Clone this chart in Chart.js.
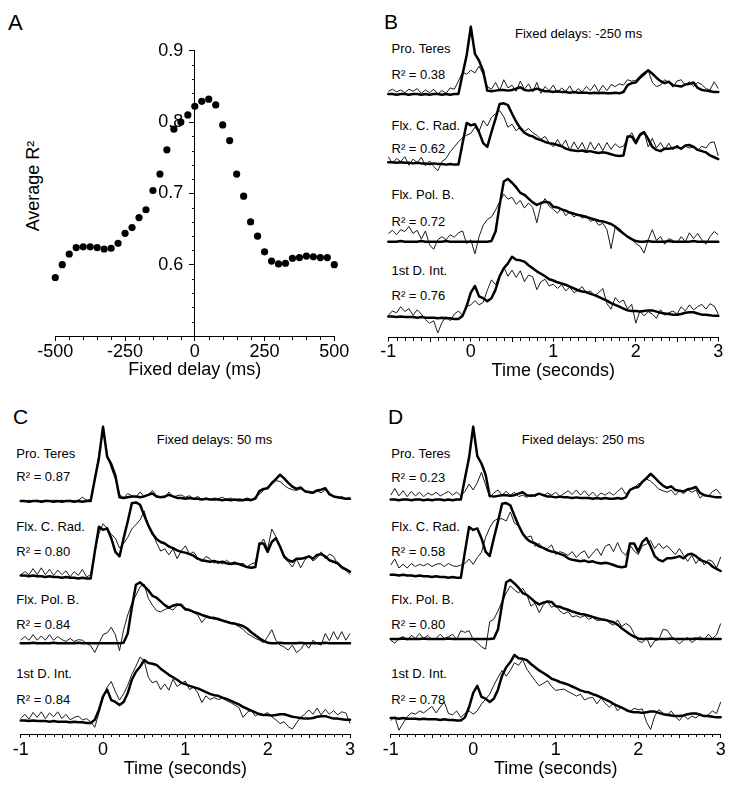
<!DOCTYPE html>
<html>
<head>
<meta charset="utf-8">
<script src="https://cdn.jsdelivr.net/npm/chart.js@4.4.1/dist/chart.umd.min.js"></script>
<style>
html,body{margin:0;padding:0;background:#fff;}
body{width:735px;height:792px;position:relative;overflow:hidden;font-family:"Liberation Sans",Arial,Helvetica,sans-serif;color:#000;}
canvas{position:absolute;z-index:1;}
.lbl{position:absolute;white-space:nowrap;line-height:1;z-index:0;color:#000;}
</style>
</head>
<body>
<canvas id="cA" width="370" height="392" style="left:0px;top:0px;width:370px;height:392px"></canvas>
<canvas id="cB" width="365" height="392" style="left:370px;top:0px;width:365px;height:392px"></canvas>
<canvas id="cC" width="370" height="397" style="left:0px;top:395px;width:370px;height:397px"></canvas>
<canvas id="cD" width="370" height="397" style="left:365px;top:395px;width:370px;height:397px"></canvas>
<script>
// ---------------- Panel A data ----------------
const DELAY_MS = [-500,-475,-450,-425,-400,-375,-350,-325,-300,-275,-250,-225,-200,-175,-150,-125,-100,-75,-50,-25,
  0,25,50,75,100,125,150,175,200,225,250,275,300,325,350,375,400,425,450,475,500];
const AVG_R2 = [0.582,0.600,0.615,0.624,0.625,0.625,0.624,0.622,0.623,0.630,0.644,0.652,0.666,0.677,0.704,0.727,0.761,0.790,0.800,0.810,
  0.822,0.829,0.832,0.824,0.796,0.774,0.727,0.696,0.660,0.640,0.618,0.605,0.601,0.602,0.609,0.610,0.612,0.611,0.610,0.610,0.600];
const A_X_TICKS = [-500,-250,0,250,500];
const A_Y_TICKS = [0.6,0.7,0.8,0.9];

// ---------------- Time grid (seconds) ----------------
const TIME = [-1,-0.95,-0.9,-0.85,-0.8,-0.75,-0.7,-0.65,-0.6,-0.55,-0.5,-0.45,-0.4,-0.35,-0.3,-0.25,-0.2,-0.15,-0.1,-0.05,
  0,0.05,0.1,0.15,0.2,0.25,0.3,0.35,0.4,0.45,
  0.5,0.55,0.6,0.65,0.7,0.75,0.8,0.85,0.9,0.95,
  1,1.05,1.1,1.15,1.2,1.25,1.3,1.35,1.4,1.45,
  1.5,1.55,1.6,1.65,1.7,1.75,1.8,1.85,1.9,1.95,
  2,2.05,2.1,2.15,2.2,2.25,2.3,2.35,2.4,2.45,
  2.5,2.55,2.6,2.65,2.7,2.75,2.8,2.85,2.9,2.95,
  3];
const TIME_TICKS = [-1,0,1,2,3];

// ---------------- Recorded EMG (thick lines, same in B, C, D) ----------------
const EMG_PRO_TERES = [0.01,0.01,0.00,0.01,0.01,0.00,0.01,0.01,0.00,0.01,0.00,0.01,0.01,0.00,0.01,0.00,0.01,0.01,0.30,0.58,
  1.00,0.60,0.50,0.35,0.06,0.05,0.06,0.07,0.07,0.06,
  0.07,0.09,0.11,0.07,0.06,0.07,0.09,0.07,0.05,0.05,
  0.04,0.05,0.04,0.04,0.03,0.04,0.03,0.03,0.03,0.02,
  0.03,0.02,0.03,0.02,0.02,0.03,0.02,0.04,0.14,0.17,
  0.18,0.25,0.30,0.36,0.31,0.25,0.20,0.17,0.19,0.14,
  0.13,0.12,0.15,0.16,0.18,0.10,0.07,0.06,0.05,0.04,
  0.04];
const EMG_FLX_C_RAD = [0.03,0.03,0.02,0.03,0.02,0.02,0.01,0.02,0.01,0.01,0.00,0.01,0.00,0.00,-0.01,0.00,-0.01,-0.01,0.34,0.67,
  0.63,0.65,0.52,0.34,0.28,0.52,0.74,0.98,0.99,0.96,
  0.82,0.69,0.58,0.51,0.47,0.45,0.41,0.39,0.36,0.34,
  0.33,0.31,0.29,0.25,0.23,0.22,0.21,0.22,0.20,0.21,
  0.19,0.18,0.19,0.18,0.16,0.14,0.13,0.14,0.45,0.45,
  0.34,0.47,0.52,0.41,0.28,0.23,0.21,0.25,0.25,0.26,
  0.28,0.25,0.30,0.31,0.28,0.23,0.21,0.19,0.14,0.11,
  0.08];
const EMG_FLX_POL_B = [0.00,0.00,0.00,0.01,0.00,0.00,0.00,0.00,0.01,0.00,0.00,0.00,0.00,0.00,0.01,0.00,0.00,0.00,0.00,0.00,
  0.00,0.00,0.00,0.00,0.00,0.01,0.16,0.58,0.95,0.99,
  0.93,0.86,0.77,0.74,0.68,0.62,0.58,0.61,0.63,0.62,
  0.55,0.54,0.51,0.49,0.46,0.44,0.42,0.41,0.39,0.37,
  0.35,0.33,0.32,0.30,0.28,0.24,0.18,0.13,0.08,0.04,
  0.01,0.00,0.00,0.01,0.00,0.00,0.00,0.00,0.01,0.00,
  0.00,0.00,0.00,0.00,0.01,0.00,0.00,0.00,0.00,0.00,
  0.00];
const EMG_1ST_D_INT = [0.02,0.02,0.01,0.02,0.01,0.01,0.01,0.00,0.01,0.00,0.00,0.00,-0.01,0.00,-0.01,-0.01,-0.02,-0.02,0.03,0.19,
  0.41,0.52,0.35,0.32,0.27,0.32,0.46,0.68,0.81,0.89,
  1.00,0.95,0.94,0.92,0.86,0.81,0.76,0.72,0.68,0.63,
  0.61,0.58,0.56,0.54,0.51,0.48,0.45,0.43,0.42,0.39,
  0.37,0.34,0.31,0.28,0.24,0.21,0.18,0.15,0.12,0.11,
  0.11,0.10,0.11,0.12,0.12,0.10,0.08,0.07,0.06,0.05,
  0.05,0.06,0.08,0.09,0.09,0.07,0.05,0.05,0.04,0.03,
  0.03];

// ---------------- Predictions (thin lines) ----------------
// Panel B, fixed delay -250 ms
const PRED_B_PRO_TERES = [0.05,0.08,0.04,0.07,0.03,0.08,0.05,0.09,0.02,0.07,0.03,0.08,0.01,0.06,0.02,0.10,0.08,0.20,0.33,0.30,
  0.36,0.32,0.42,0.30,0.12,0.08,0.18,0.06,0.22,0.10,
  0.14,0.05,0.20,0.08,0.16,0.04,0.18,0.02,0.12,0.06,
  0.14,0.03,0.10,0.05,0.13,0.02,0.09,0.04,0.12,0.06,
  0.15,0.04,0.14,0.06,0.15,0.12,0.16,0.14,0.22,0.20,
  0.21,0.28,0.33,0.36,0.18,0.12,0.14,0.22,0.18,0.11,
  0.20,0.22,0.14,0.19,0.12,0.18,0.15,0.09,0.07,0.19,
  0.09];
const PRED_B_FLX_C_RAD = [0.12,0.01,0.09,0.04,0.12,-0.02,0.08,0.02,0.11,-0.03,0.05,-0.04,-0.11,0.04,0.09,0.20,0.28,0.36,0.43,0.47,
  0.50,0.60,0.53,0.71,0.62,0.76,0.82,0.87,0.77,0.60,
  0.65,0.54,0.61,0.53,0.58,0.51,0.47,0.40,0.45,0.35,
  0.28,0.40,0.29,0.39,0.22,0.36,0.24,0.35,0.20,0.36,
  0.23,0.34,0.22,0.35,0.24,0.33,0.27,0.29,0.42,0.51,
  0.38,0.50,0.53,0.28,0.42,0.26,0.35,0.23,0.34,0.23,
  0.31,0.24,0.29,0.26,0.28,0.22,0.29,0.26,0.35,0.36,
  0.13];
const PRED_B_FLX_POL_B = [0.13,0.18,0.11,0.19,0.16,0.24,0.13,0.18,0.04,0.17,-0.05,-0.12,0.03,0.08,0.03,0.11,0.07,0.14,0.17,-0.03,
  0.03,-0.19,0.08,0.26,0.35,0.39,0.50,0.63,0.75,0.67,
  0.70,0.59,0.65,0.53,0.61,0.54,0.30,0.58,0.68,0.56,
  0.51,0.45,0.53,0.41,0.47,0.39,0.44,0.37,0.41,0.32,
  0.35,0.26,0.29,0.19,-0.11,0.23,0.21,0.14,0.08,0.04,
  -0.03,-0.07,-0.18,0.03,0.19,0.02,0.08,-0.04,0.05,0.02,
  -0.02,0.08,0.00,0.14,0.05,0.13,0.03,-0.04,0.08,0.16,
  0.11];
const PRED_B_1ST_D_INT = [0.04,0.11,0.08,0.18,0.10,0.15,0.04,0.13,0.06,-0.03,-0.09,-0.05,-0.25,-0.08,0.02,-0.05,0.06,0.11,0.04,0.18,
  0.21,0.28,0.21,0.25,0.45,0.62,0.54,0.70,0.83,0.68,
  0.78,0.66,0.77,0.59,0.70,0.67,0.46,0.59,0.63,0.52,
  0.55,0.48,0.54,0.44,0.50,0.41,0.45,0.51,0.40,0.44,
  0.36,0.41,0.48,0.23,0.14,0.33,0.25,0.29,0.14,0.22,
  -0.09,0.11,0.03,0.10,0.06,-0.01,0.13,0.04,0.08,0.11,
  0.06,0.18,0.11,0.21,0.13,0.18,0.22,0.14,0.23,0.19,
  0.06];
// Panel C, fixed delay 50 ms
const PRED_C_PRO_TERES = [0.01,0.00,0.02,0.01,0.02,0.01,0.02,0.01,0.02,0.01,0.02,0.01,0.02,0.01,0.02,0.06,0.02,0.03,0.30,0.62,
  0.95,0.62,0.45,0.30,0.10,0.05,0.11,0.08,0.06,0.13,
  0.07,0.09,0.15,0.08,0.06,0.05,0.13,0.06,0.08,0.09,
  0.06,0.08,0.04,0.07,0.03,0.05,0.03,0.05,0.04,0.06,
  0.03,0.05,0.02,0.04,0.03,0.05,0.03,0.06,0.10,0.15,
  0.20,0.23,0.28,0.27,0.22,0.18,0.16,0.15,0.17,0.14,
  0.12,0.11,0.14,0.12,0.16,0.09,0.08,0.05,0.07,0.04,
  0.06];
const PRED_C_FLX_C_RAD = [0.04,0.08,0.04,0.12,0.04,0.13,0.04,0.11,0.03,0.10,0.04,0.09,0.01,0.08,0.03,0.11,0.01,0.04,0.34,0.58,
  0.71,0.65,0.57,0.52,0.39,0.45,0.53,0.64,0.70,0.76,
  0.88,0.68,0.60,0.46,0.35,0.38,0.30,0.38,0.25,0.35,
  0.42,0.31,0.34,0.26,0.21,0.28,0.25,0.19,0.22,0.18,
  0.23,0.19,0.21,0.17,0.19,0.14,0.18,0.20,0.42,0.51,
  0.38,0.64,0.54,0.41,0.26,0.21,0.14,0.25,0.13,0.23,
  0.29,0.22,0.26,0.34,0.25,0.31,0.28,0.18,0.12,0.10,
  0.04];
const PRED_C_FLX_POL_B = [0.05,0.11,0.05,0.14,0.05,0.12,0.05,0.14,0.05,0.11,0.06,0.03,0.08,0.03,0.06,0.05,0.00,-0.04,-0.15,0.00,
  0.14,0.17,0.26,0.14,-0.12,0.22,0.46,0.65,0.78,0.92,
  0.96,0.73,0.62,0.53,0.51,0.55,0.57,0.54,0.61,0.64,
  0.57,0.55,0.50,0.46,0.34,0.42,0.41,0.39,0.41,0.37,
  0.35,0.32,0.31,0.27,0.23,0.16,0.12,0.08,0.05,0.01,
  0.11,0.22,0.05,-0.03,-0.06,-0.11,-0.03,-0.15,-0.10,0.00,
  -0.08,0.05,0.00,-0.03,0.16,0.04,0.19,0.06,0.19,0.05,
  0.16];
const PRED_C_1ST_D_INT = [0.05,0.12,0.04,0.15,0.07,0.16,0.05,0.14,0.08,0.16,0.05,0.12,0.03,0.07,0.09,0.03,0.05,0.00,-0.09,0.14,
  0.38,0.56,0.65,0.49,0.35,0.45,0.59,0.77,0.90,1.05,
  0.99,0.72,0.63,0.66,0.52,0.61,0.51,0.69,0.57,0.62,
  0.66,0.52,0.56,0.47,0.31,0.42,0.36,0.39,0.36,0.38,
  0.34,0.31,0.27,0.23,0.07,0.15,0.19,0.09,0.14,0.11,
  0.15,0.08,0.03,-0.03,0.00,-0.08,-0.12,-0.02,0.07,0.12,
  0.19,0.12,0.22,0.11,0.20,0.12,0.18,0.11,0.16,0.14,
  -0.03];
// Panel D, fixed delay 250 ms
const PRED_D_PRO_TERES = [0.07,0.16,0.06,0.13,0.05,0.12,0.06,0.11,0.05,0.10,0.07,0.11,0.06,0.09,0.12,0.07,0.11,0.06,0.12,0.22,
  0.14,0.24,0.38,0.21,0.04,0.10,0.14,0.07,0.12,0.07,
  0.11,0.05,0.07,0.04,0.08,0.05,0.09,0.06,0.10,0.07,
  0.11,0.05,0.09,0.13,0.08,0.14,0.07,0.13,0.06,0.11,
  0.05,0.10,0.07,0.11,0.07,0.12,0.17,0.08,0.15,0.17,
  0.22,0.24,0.29,0.26,0.21,0.15,0.13,0.11,0.14,0.07,
  0.13,0.09,0.14,0.11,0.14,0.03,0.08,0.05,0.12,0.15,
  0.08];
const PRED_D_FLX_C_RAD = [0.16,0.24,0.12,0.17,0.12,0.18,0.14,0.17,0.15,0.18,0.14,0.17,0.18,0.14,0.18,0.15,0.14,0.16,0.18,0.24,
  0.17,0.26,0.33,0.53,0.66,0.75,0.78,0.78,0.75,0.87,
  0.72,0.69,0.58,0.53,0.55,0.41,0.45,0.38,0.38,0.43,
  0.30,0.34,0.32,0.29,0.34,0.26,0.32,0.35,0.25,0.32,
  0.38,0.29,0.41,0.44,0.34,0.46,0.34,0.29,0.43,0.35,
  0.30,0.42,0.44,0.49,0.38,0.45,0.38,0.42,0.36,0.30,
  0.38,0.29,0.21,0.29,0.18,0.26,0.16,0.23,0.21,0.12,
  0.27];
const PRED_D_FLX_POL_B = [-0.02,-0.07,0.01,0.04,-0.02,0.06,0.01,0.09,0.01,0.06,-0.01,0.01,0.08,0.01,0.04,0.08,-0.01,0.14,0.11,0.14,
  -0.01,-0.06,-0.13,-0.17,0.29,0.33,0.47,0.63,0.77,0.89,
  0.82,0.77,0.85,0.74,0.55,0.60,0.44,0.57,0.63,0.53,
  0.57,0.47,0.42,0.46,0.37,0.39,0.36,0.39,0.33,0.36,
  0.31,0.32,0.33,0.27,0.23,0.32,0.21,0.26,0.22,0.09,
  -0.03,-0.06,0.03,-0.14,-0.03,-0.01,0.16,0.15,0.05,-0.02,
  -0.08,-0.02,0.03,-0.06,-0.01,0.04,-0.01,0.08,0.01,0.07,
  0.26];
const PRED_D_1ST_D_INT = [-0.02,0.04,-0.17,-0.06,0.04,0.10,0.08,0.13,0.10,0.15,0.20,0.10,0.19,0.27,0.09,0.07,0.13,0.03,0.09,0.13,
  0.08,0.13,0.24,0.31,0.39,0.53,0.65,0.76,0.67,0.76,
  0.88,0.84,0.93,0.78,0.69,0.60,0.52,0.56,0.60,0.51,
  0.45,0.46,0.47,0.43,0.40,0.36,0.39,0.30,0.33,0.34,
  0.24,0.33,0.25,0.19,0.25,0.13,0.20,0.13,0.12,0.17,
  0.15,0.16,-0.04,-0.16,0.05,0.15,0.10,0.05,0.13,0.04,
  -0.02,0.07,0.00,0.05,0.02,0.08,0.04,0.07,0.13,0.09,
  0.27];

// ---------------- Labels ----------------
const MUSCLES = ['Pro. Teres','Flx. C. Rad.','Flx. Pol. B.','1st D. Int.'];
const R2_B = ['0.38','0.62','0.72','0.76'];
const R2_C = ['0.87','0.80','0.84','0.84'];
const R2_D = ['0.23','0.58','0.80','0.78'];
const DELAY_TITLE_B = 'Fixed delays: -250 ms';
const DELAY_TITLE_C = 'Fixed delays: 50 ms';
const DELAY_TITLE_D = 'Fixed delays: 250 ms';

// ---------------- Layout (pixels) ----------------
const FONT = '"Liberation Sans", Arial, Helvetica, sans-serif';
Chart.defaults.font.family = FONT;
Chart.defaults.color = '#000';

const PANEL_LAYOUT = {
  B: {canvas:'cB', padL:18.3, padR:16.7, bottom:337.5, canvasH:392, tickPad:0, titlePadB:9.8,
      bases:[94.7,164,241.7,317.7], amps:[68,61.3,63.4,61],
      textLeft:391.5, textTops:[[41.6,68.3],[119,141.6],[188.3,215],[264.3,289.3]],
      letter:{t:'B', left:384, top:10.6}, title:{left:515, top:26.5}},
  C: {canvas:'cC', padL:20.7, padR:20, bottom:339, canvasH:397, tickPad:1.5, titlePadB:12.2,
      bases:[106.7,182.7,248.3,326.7], amps:[75,76,61.6,61.7],
      textLeft:16.3, textTops:[[446.6,470],[520,545],[593.3,618.3],[666.6,693.3]],
      letter:{t:'C', left:13, top:405.6}, title:{left:156.7, top:432.5}},
  D: {canvas:'cD', padL:25.7, padR:14.3, bottom:339, canvasH:397, tickPad:1.5, titlePadB:12.2,
      bases:[105.3,182,244,324.3], amps:[73.6,74.7,59.7,64.3],
      textLeft:391.3, textTops:[[446.6,470.6],[520,545],[593.3,618.3],[666.6,693.3]],
      letter:{t:'D', left:388, top:405.6}, title:{left:521.7, top:432.5}}
};

function addLabel(text, left, top, size, extra) {
  const d = document.createElement('div');
  d.className = 'lbl';
  d.textContent = text;
  d.style.left = left + 'px';
  d.style.top = top + 'px';
  d.style.fontSize = size + 'px';
  if (extra) Object.assign(d.style, extra);
  document.body.appendChild(d);
  return d;
}

// minor tick marks drawn through the chart's own scales
const minorTicks = {
  id: 'minorTicks',
  beforeDatasetsDraw(chart, args, opts) {
    // tick labels of an axis placed at a data value (panel A's y axis)
    const ctx = chart.ctx;
    (opts.labels || []).forEach(l => {
      const sc = chart.scales[l.scale];
      const x0 = chart.scales[l.cross].getPixelForValue(l.crossValue);
      ctx.save();
      ctx.fillStyle = '#000';
      ctx.font = l.size + 'px ' + FONT;
      ctx.textAlign = 'right';
      ctx.textBaseline = 'middle';
      l.values.forEach(v => ctx.fillText(l.format(v), x0 - l.offset, sc.getPixelForValue(v)));
      ctx.restore();
    });
  },
  afterDraw(chart, args, opts) {
    const ctx = chart.ctx;
    ctx.save();
    ctx.strokeStyle = '#000';
    ctx.lineWidth = 1;
    (opts.marks || []).forEach(m => {
      const sc = chart.scales[m.scale];
      ctx.beginPath();
      if (m.dir === 'down') {
        const y0 = Math.round(sc.top);
        m.values.forEach((v, i) => {
          const x = Math.round(sc.getPixelForValue(v)) + 0.5;
          ctx.moveTo(x, y0); ctx.lineTo(x, y0 + 1 + m.lengths[i]);
        });
      } else {
        const x0 = Math.round(chart.scales[m.cross].getPixelForValue(m.crossValue));
        m.values.forEach((v, i) => {
          const y = Math.round(sc.getPixelForValue(v)) + 0.5;
          ctx.moveTo(x0, y); ctx.lineTo(x0 - m.lengths[i], y);
        });
      }
      ctx.stroke();
    });
    ctx.restore();
  }
};

// ---------------- Panel A ----------------
(function () {
  const xMinor = [], xMinorLen = [];
  for (let v = -450; v < 500; v += 50) { if (v % 250 !== 0) { xMinor.push(v); xMinorLen.push(3); } }
  const yMinor = [], yMinorLen = [];
  for (let i = 26; i < 45; i++) { if (i % 5 !== 0) { yMinor.push(i / 50); yMinorLen.push(3); } }
  new Chart(document.getElementById('cA'), {
    type: 'scatter',
    data: { datasets: [{
      data: DELAY_MS.map((d, i) => ({ x: d, y: AVG_R2[i] })),
      pointRadius: 3.6, pointBackgroundColor: '#000', pointBorderColor: '#000', pointBorderWidth: 0,
      showLine: false, clip: false
    }]},
    options: {
      responsive: false, animation: false, devicePixelRatio: 1,
      layout: { padding: { left: 55.3, right: 35.7, top: 50.7, bottom: 0 } },
      plugins: { legend: { display: false }, tooltip: { enabled: false },
        minorTicks: {
          marks: [
            { scale: 'x', dir: 'down', values: xMinor, lengths: xMinorLen },
            { scale: 'y', dir: 'left', cross: 'x', crossValue: 0, values: yMinor, lengths: yMinorLen }
          ],
          labels: [
            { scale: 'y', cross: 'x', crossValue: 0, values: A_Y_TICKS, offset: 11.5, size: 18, format: v => v.toFixed(1) }
          ]
        }},
      scales: {
        x: { type: 'linear', min: -500, max: 500, position: 'bottom',
          afterBuildTicks: s => { s.ticks = A_X_TICKS.map(v => ({ value: v })); },
          ticks: { font: { size: 18 }, color: '#000', padding: 0, maxRotation: 0, autoSkip: false, callback: v => String(v) },
          grid: { display: true, drawOnChartArea: false, drawTicks: true, tickLength: 5, tickColor: '#000', tickWidth: 1 },
          border: { display: true, color: '#000', width: 1 },
          title: { display: true, text: 'Fixed delay (ms)', font: { size: 18 }, color: '#000', padding: { top: 0, bottom: 10.7 } },
          afterFit: s => { s.height = 56; } },
        y: { type: 'linear', min: 0.5, max: 0.9, position: { x: 0 },
          afterBuildTicks: s => { s.ticks = A_Y_TICKS.map(v => ({ value: v })); },
          ticks: { display: false },
          grid: { display: true, drawOnChartArea: false, drawTicks: true, tickLength: 5, tickColor: '#000', tickWidth: 1 },
          border: { display: true, color: '#000', width: 1 },
          afterFit: s => { s.width = 0; } }
      }
    },
    plugins: [minorTicks]
  });
  addLabel('A', 8, 12.1, 22);
  addLabel('Average R\u00B2', 33.3, 185.7, 18, { transform: 'translate(-50%,-50%) rotate(-90deg)' });
})();

// ---------------- Panels B, C, D ----------------
const EMG = [EMG_PRO_TERES, EMG_FLX_C_RAD, EMG_FLX_POL_B, EMG_1ST_D_INT];
const PRED = {
  B: [PRED_B_PRO_TERES, PRED_B_FLX_C_RAD, PRED_B_FLX_POL_B, PRED_B_1ST_D_INT],
  C: [PRED_C_PRO_TERES, PRED_C_FLX_C_RAD, PRED_C_FLX_POL_B, PRED_C_1ST_D_INT],
  D: [PRED_D_PRO_TERES, PRED_D_FLX_C_RAD, PRED_D_FLX_POL_B, PRED_D_1ST_D_INT]
};
const R2 = { B: R2_B, C: R2_C, D: R2_D };
const DELAY_TITLE = { B: DELAY_TITLE_B, C: DELAY_TITLE_C, D: DELAY_TITLE_D };

function tracePanel(key) {
  const L = PANEL_LAYOUT[key];
  const toXY = arr => TIME.map((t, i) => ({ x: t, y: arr[i] }));
  const datasets = [];
  const scales = {
    x: { type: 'linear', min: -1, max: 3, position: 'bottom',
      afterBuildTicks: s => { s.ticks = TIME_TICKS.map(v => ({ value: v })); },
      ticks: { font: { size: 18 }, color: '#000', padding: L.tickPad, maxRotation: 0, autoSkip: false, callback: v => String(v) },
      grid: { display: true, drawOnChartArea: false, drawTicks: true, tickLength: 4, tickColor: '#000', tickWidth: 1 },
      border: { display: true, color: '#000', width: 1 },
      title: { display: true, text: 'Time (seconds)', font: { size: 18 }, color: '#000', padding: { top: 0, bottom: L.titlePadB } },
      afterFit: s => { s.height = L.canvasH - L.bottom; } }
  };
  MUSCLES.forEach((m, k) => {
    const id = 'y' + k;
    scales[id] = { type: 'linear', display: false,
      min: -(L.bottom - L.bases[k]) / L.amps[k], max: L.bases[k] / L.amps[k] };
    datasets.push({ label: m + ' EMG', data: toXY(EMG[k]), yAxisID: id, order: 0,
      borderColor: '#000', borderWidth: 2.5, pointRadius: 0, tension: 0, fill: false, clip: false,
      borderJoinStyle: 'round', borderCapStyle: 'round' });
    datasets.push({ label: m + ' prediction', data: toXY(PRED[key][k]), yAxisID: id, order: 1,
      borderColor: '#1a1a1a', borderWidth: 1, pointRadius: 0, tension: 0, fill: false, clip: false,
      borderJoinStyle: 'round' });
  });
  const minor = [], minorLen = [];
  for (let i = -10; i <= 30; i++) {
    if (i % 10 === 0) continue;
    minor.push(i / 10);
    minorLen.push(Math.abs(i % 10) === 5 ? 3 : 2);
  }
  new Chart(document.getElementById(L.canvas), {
    type: 'line',
    data: { datasets },
    options: {
      responsive: false, animation: false, devicePixelRatio: 1, parsing: true,
      layout: { padding: { left: L.padL, right: L.padR, top: 0, bottom: 0 } },
      plugins: { legend: { display: false }, tooltip: { enabled: false },
        minorTicks: { marks: [{ scale: 'x', dir: 'down', values: minor, lengths: minorLen }] } },
      scales
    },
    plugins: [minorTicks]
  });
  addLabel(L.letter.t, L.letter.left, L.letter.top, 21);
  addLabel(DELAY_TITLE[key], L.title.left, L.title.top, 13);
  MUSCLES.forEach((m, k) => {
    addLabel(m, L.textLeft, L.textTops[k][0], 13);
    addLabel('R\u00B2 = ' + R2[key][k], L.textLeft, L.textTops[k][1], 13);
  });
}
tracePanel('B');
tracePanel('C');
tracePanel('D');
</script>
</body>
</html>
